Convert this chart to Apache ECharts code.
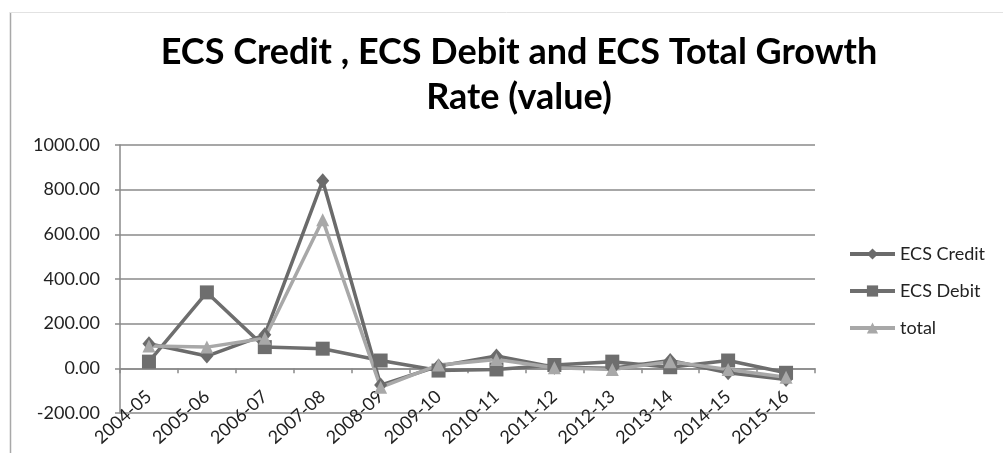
<!DOCTYPE html>
<html>
<head>
<meta charset="utf-8">
<script src="https://cdn.jsdelivr.net/npm/echarts@6/dist/echarts.min.js"></script>
<style>
html,body{margin:0;padding:0;background:#fff;}
#chart{width:1003px;height:453px;}
</style>
</head>
<body>
<div id="chart"></div>
<script>
var categories = ["2004-05","2005-06","2006-07","2007-08","2008-09","2009-10","2010-11","2011-12","2012-13","2013-14","2014-15","2015-16"];
var ecsCredit = [110, 55, 150, 840, -75, 10, 55, 5, 0, 35, -20, -50];
var ecsDebit = [30, 340, 95, 88, 35, -10, -5, 15, 30, 5, 35, -20];
var ecsTotal = [100, 95, 135, 665, -85, 15, 40, 3, -5, 30, -5, -40];
var yTicks = {min: -200, max: 1000, interval: 200};

var FONT = "Lato";
var chart = echarts.init(document.getElementById('chart'), null, {renderer: 'canvas'});
chart.setOption({
  backgroundColor: '#ffffff',
  animation: false,
  title: {
    text: 'ECS Credit , ECS Debit and ECS Total Growth\nRate (value)',
    left: 514, top: 25, textAlign: 'center',
    textStyle: {fontFamily: FONT, fontWeight: 'bold', fontSize: 36, lineHeight: 45, color: '#000'}
  },
  graphic: [
    {type: 'line', shape: {x1: 10.5, y1: 12, x2: 10.5, y2: 453}, style: {stroke: '#a8a8a8', lineWidth: 1.5}, silent: true},
    {type: 'line', shape: {x1: 10, y1: 12.5, x2: 1003, y2: 12.5}, style: {stroke: '#e2e2e2', lineWidth: 1}, silent: true}
  ],
  legend: {
    orient: 'vertical', left: 843, top: 240,
    itemWidth: 45, itemHeight: 14, itemGap: 19,
    lineStyle: {width: 4},
    textStyle: {fontFamily: FONT, fontSize: 18, color: '#222'},
    data: ['ECS Credit', 'ECS Debit', 'total']
  },
  grid: {left: 120, right: 188, top: 145, bottom: 40, containLabel: false, outerBoundsMode: 'none'},
  xAxis: {
    type: 'category', data: categories, boundaryGap: true,
    axisLine: {onZero: true, lineStyle: {color: '#8a8a8a', width: 1.5}},
    axisTick: {show: true, length: 5, lineStyle: {color: '#8a8a8a', width: 1.5}},
    axisLabel: {interval: 0, rotate: 42, margin: -19, fontFamily: FONT, fontSize: 18, color: '#222'},
    splitLine: {show: false}
  },
  yAxis: {
    type: 'value', min: yTicks.min, max: yTicks.max, interval: yTicks.interval,
    axisLine: {show: true, lineStyle: {color: '#8a8a8a', width: 1.5}},
    axisTick: {show: true, length: 5, lineStyle: {color: '#8a8a8a', width: 1.5}},
    axisLabel: {margin: 20, fontFamily: FONT, fontSize: 18, color: '#222', formatter: function(v){return v.toFixed(2);}},
    splitLine: {show: true, lineStyle: {color: '#8a8a8a', width: 1.5}}
  },
  series: [
    {name: 'ECS Credit', type: 'line', data: ecsCredit, symbol: 'diamond', symbolSize: [13, 15],
      lineStyle: {color: '#6b6b6b', width: 3.5}, itemStyle: {color: '#6b6b6b'}},
    {name: 'ECS Debit', type: 'line', data: ecsDebit, symbol: 'rect', symbolSize: 14,
      lineStyle: {color: '#6e6e6e', width: 3.5}, itemStyle: {color: '#6e6e6e'}},
    {name: 'total', type: 'line', data: ecsTotal, symbol: 'triangle', symbolSize: 13,
      lineStyle: {color: '#a8a8a8', width: 3.5}, itemStyle: {color: '#a8a8a8'}}
  ]
});
</script>
</body>
</html>
